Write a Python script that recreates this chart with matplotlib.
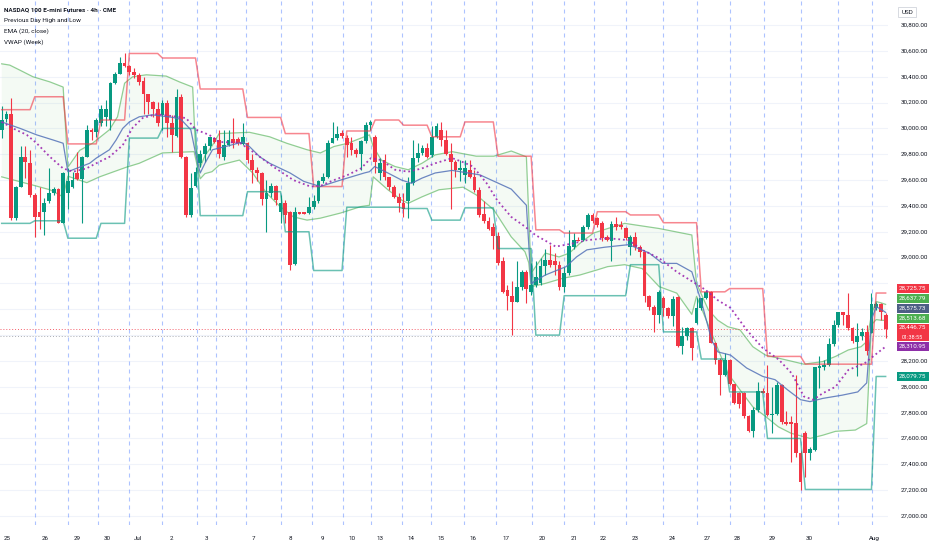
import numpy as np
import matplotlib
matplotlib.use('Agg')
import matplotlib.pyplot as plt
from matplotlib.patches import Rectangle

plt.rcParams['font.family'] = ['Roboto', 'DejaVu Sans']

# NQ 4h candles, oldest first
opens = [29990, 30070, 30115, 29305, 29550, 29780, 29730, 29485, 29355, 29355,
         29435, 29500, 29530, 29270, 29500, 29550, 29655, 29605, 29780, 29990,
         29975, 30040, 30090, 30065, 30350, 30425, 30510, 30480, 30440, 30415,
         30370, 30265, 30205, 30150, 30105, 30195, 30040, 29940, 30240, 29780,
         29330, 29555, 29730, 29805, 29860, 29925, 29910, 29780, 29870, 29920,
         29920, 29880, 29885, 29755, 29680, 29655, 29455, 29500, 29555, 29355,
         29425, 29355, 28950, 29350, 29350, 29345, 29395, 29435, 29595, 29625,
         29890, 29925, 29965, 29925, 29885, 29830, 29805, 29905, 30025, 29935,
         29655, 29755, 29620, 29550, 29470, 29420, 29435, 29575, 29770, 29810,
         29845, 29795, 29935, 29990, 29910, 29805, 29740, 29675, 29640, 29680,
         29625, 29525, 29335, 29280, 29235, 29165, 28970, 28750, 28705, 28660,
         28775, 28885, 28735, 28790, 28800, 28935, 28980, 28975, 28945, 28770,
         28880, 29085, 29140, 29135, 29240, 29330, 29305, 29265, 29160, 29125,
         29260, 29255, 29230, 29085, 29160, 29085, 29045, 28700, 28620, 28555,
         28685, 28610, 28545, 28695, 28315, 28390, 28455, 28490, 28610, 28685,
         28735, 28340, 28205, 28095, 28205, 28020, 27950, 27950, 27770, 27660,
         27820, 27965, 27955, 27780, 27790, 28015, 27730, 27725, 27720, 27485,
         27645, 27485, 27510, 28145, 28150, 28170, 28330, 28475, 28580, 28555,
         28455, 28350, 28390, 28425, 28420, 28610, 28640, 28555]
highs = [30170, 30135, 30235, 29555, 29860, 29860, 29835, 29500, 29550, 29460,
         29690, 29550, 29540, 29665, 29690, 29665, 29820, 29785, 30025, 30000,
         30080, 30180, 30220, 30360, 30435, 30555, 30580, 30490, 30465, 30430,
         30400, 30270, 30210, 30205, 30220, 30220, 30105, 30305, 30270, 29785,
         29655, 29705, 29835, 29885, 29935, 29935, 29990, 29990, 29990, 30080,
         29935, 30040, 29895, 29805, 29705, 29660, 29600, 29575, 29560, 29485,
         29445, 29360, 29395, 29355, 29355, 29470, 29485, 29600, 29655, 29910,
         30050, 30015, 29990, 29950, 29935, 29845, 29910, 30050, 30065, 29950,
         29770, 29805, 29625, 29560, 29500, 29500, 29625, 29910, 29885, 29870,
         29885, 30015, 30040, 30050, 29990, 29885, 29755, 29755, 29755, 29755,
         29680, 29550, 29435, 29315, 29265, 29200, 29005, 28790, 28815, 28970,
         28905, 28905, 28955, 28970, 28995, 29070, 29100, 29035, 28970, 28930,
         29215, 29190, 29160, 29250, 29345, 29345, 29315, 29280, 29175, 29280,
         29315, 29280, 29240, 29175, 29200, 29100, 29045, 28710, 28635, 28750,
         28700, 28620, 28700, 28705, 28465, 28465, 28465, 28685, 28690, 28750,
         28740, 28350, 28220, 28260, 28215, 28025, 27960, 27960, 27780, 27845,
         28040, 27990, 28170, 28000, 28040, 28025, 27815, 27770, 28090, 27500,
         27655, 27535, 28155, 28235, 28205, 28375, 28515, 28580, 28580, 28725,
         28465, 28490, 28455, 28480, 28725, 28660, 28645, 28570]
lows = [29925, 30050, 29290, 29290, 29545, 29615, 29470, 29160, 29225, 29175,
        29420, 29485, 29265, 29265, 29380, 29540, 29600, 29265, 29775, 29910,
        29935, 30015, 30015, 29990, 30340, 30420, 30475, 30415, 30390, 30335,
        30115, 30115, 30090, 30015, 29990, 29935, 29820, 29935, 29770, 29315,
        29315, 29550, 29705, 29740, 29835, 29885, 29770, 29755, 29860, 29845,
        29870, 29870, 29730, 29575, 29590, 29405, 29200, 29470, 29405, 29265,
        29265, 28905, 28945, 29335, 29335, 29340, 29380, 29420, 29575, 29615,
        29885, 29910, 29925, 29780, 29795, 29780, 29680, 29885, 29990, 29655,
        29600, 29600, 29525, 29460, 29355, 29315, 29305, 29560, 29740, 29795,
        29770, 29780, 29925, 29860, 29795, 29380, 29625, 29590, 29575, 29615,
        29510, 29315, 29265, 29215, 29070, 28945, 28725, 28595, 28400, 28655,
        28750, 28645, 28710, 28775, 28790, 28865, 28930, 28865, 28750, 28735,
        28865, 29070, 29125, 29130, 29225, 29265, 29240, 29125, 29125, 28970,
        29215, 29225, 29135, 29020, 29060, 29005, 28660, 28595, 28425, 28490,
        28545, 28530, 28470, 28310, 28250, 28360, 28205, 28485, 28595, 28680,
        28335, 28180, 27935, 28080, 28015, 27870, 27835, 27755, 27650, 27615,
        27805, 27950, 27770, 27640, 27780, 27715, 27705, 27415, 27460, 27200,
        27305, 27435, 27500, 27990, 28130, 28160, 28315, 28465, 28480, 28440,
        28335, 28080, 28360, 28245, 28415, 28595, 28515, 28375]
closes = [30065, 30115, 29305, 29550, 29780, 29740, 29485, 29315, 29315, 29425,
          29500, 29530, 29270, 29655, 29590, 29600, 29605, 29780, 29990, 29975,
          30065, 30150, 30150, 30350, 30425, 30505, 30480, 30435, 30410, 30360,
          30265, 30205, 30150, 30045, 30195, 30040, 29950, 30240, 29780, 29330,
          29540, 29665, 29805, 29860, 29930, 29895, 29805, 29870, 29910, 29885,
          29885, 29930, 29755, 29680, 29655, 29455, 29500, 29555, 29445, 29425,
          29330, 28945, 29355, 29340, 29340, 29395, 29435, 29595, 29625, 29890,
          29925, 29960, 29940, 29870, 29830, 29805, 29905, 30025, 30050, 29740,
          29730, 29625, 29550, 29470, 29420, 29380, 29575, 29770, 29810, 29845,
          29780, 29935, 30015, 29910, 29805, 29740, 29675, 29690, 29690, 29625,
          29525, 29330, 29280, 29225, 29165, 28955, 28735, 28705, 28660, 28775,
          28885, 28755, 28790, 28850, 28935, 28980, 28945, 28945, 28770, 28880,
          29090, 29140, 29130, 29240, 29330, 29280, 29250, 29150, 29135, 29260,
          29235, 29235, 29150, 29160, 29080, 29045, 28700, 28620, 28555, 28735,
          28610, 28545, 28680, 28315, 28390, 28455, 28300, 28610, 28685, 28735,
          28340, 28205, 28095, 28205, 28020, 27875, 27870, 27770, 27660, 27820,
          27965, 27955, 27780, 27790, 28015, 27725, 27715, 27715, 27485, 27260,
          27485, 27515, 28150, 28160, 28170, 28330, 28475, 28575, 28555, 28455,
          28355, 28390, 28425, 28280, 28640, 28640, 28580, 28446.75]

# previous day high / low, level per session (bar where session starts)
pd_start = [0, 7.0, 14.0, 20.3, 27.0, 34.0, 41.4, 51.6, 59.1, 65.7, 72.1, 78.1, 84.6,
            90.8, 97.8, 104.5, 112.2, 119.0, 125.3, 132.1, 139.8, 147.1, 154.0, 161.2,
            169.1, 184.2]
pdh = [30145, 30245, 29880, 30065, 30580, 30545, 30305, 30085, 29960, 29550, 29980,
       30065, 30025, 29935, 30050, 29785, 29215, 29190, 29355, 29330, 29270, 28735,
       28760, 28235, 28175, 28725.75]
pdl = [29265, 29285, 29150, 29265, 29925, 30000, 29325, 29510, 29200, 28900, 29390,
       29390, 29380, 29290, 29385, 29070, 28400, 28705, 28705, 28945, 28425, 28215,
       27960, 27600, 27205, 28079.75]

# VWAP (week) and its bands, traced vertices (bar, price)
vwap_x = [0, 3.9, 7.4, 10.9, 13, 14, 18.6, 20, 22.8, 24.2, 25.6, 27, 29.1, 31.9, 36.2,
          37.9, 40, 41, 42, 43, 44.6, 47.4, 51, 52.4, 54.6, 56.7, 61, 63.9, 67.4, 71.7,
          76.7, 77.8, 78.9, 81.7, 84.6, 86.7, 88.9, 91.7, 95.3, 101.2, 104.8, 107.8, 111,
          112, 115, 119.4, 121.6, 123.8, 127.5, 132.6, 134.7, 137, 139.8, 142.8, 146,
          147, 148.2, 150.2, 151.5, 154.2, 157.6, 161, 163.6, 166.3, 169, 171, 173.7,
          177.8, 181.1, 183, 184, 185, 186, 187]
vwap_y = [30050, 30000, 29950, 29910, 29885, 29665, 29730, 29770, 29835, 29910, 30000,
          30050, 30090, 30105, 30085, 30070, 29990, 29810, 29655, 29730, 29835, 29860,
          29895, 29860, 29780, 29730, 29655, 29590, 29550, 29600, 29655, 29665, 29705,
          29655, 29600, 29575, 29615, 29655, 29675, 29640, 29580, 29530, 29405, 28800,
          28865, 28930, 29005, 29060, 29080, 29100, 29070, 29035, 28955, 28955, 28890,
          28775, 28635, 28360, 28270, 28245, 28145, 28080, 28055, 27975, 27900, 27885,
          27910, 27935, 27960, 28030, 28520, 28620, 28600, 28575.73]
upper_x = [0, 1.7, 3.9, 6.6, 10.2, 13, 14, 16.5, 19.2, 22.8, 24.5, 26, 27.7, 30.6, 34.8,
           37.6, 40.4, 41, 42, 43, 44.5, 46, 52.4, 56.7, 60.3, 64.6, 67.4, 70.3, 73.2,
           76.7, 77.8, 78.6, 80.3, 83.2, 86, 88.9, 91.7, 95.3, 100.4, 104.1, 107.8, 111,
           112, 115, 117.9, 120.1, 122.3, 125.2, 128.2, 131.8, 139.1, 146, 147, 149.5,
           151.5, 153.6, 156.2, 158.9, 161.6, 165.7, 169.7, 173.7, 176.4, 179.1, 181.8,
           183, 184, 185, 186, 187]
upper_y = [30500, 30490, 30450, 30400, 30360, 30320, 29700, 29830, 29885, 29990, 30090,
           30350, 30400, 30415, 30405, 30360, 30320, 29850, 29700, 29790, 29865, 29960,
           29970, 29935, 29885, 29835, 29810, 29860, 29885, 29935, 29950, 29860, 29755,
           29705, 29680, 29730, 29795, 29820, 29785, 29785, 29825, 29780, 28880, 29035,
           29005, 29035, 29110, 29190, 29225, 29265, 29225, 29175, 28800, 28595, 28515,
           28465, 28440, 28310, 28245, 28210, 28175, 28195, 28235, 28285, 28310, 28350,
           28560, 28660, 28650, 28637.79]
lower_x = [0, 6.7, 10.2, 13, 14, 18, 20.7, 26.4, 29.1, 34, 40.7, 41, 42, 43, 44.5, 46,
           50.3, 53.1, 56, 58.9, 61.7, 64.6, 67.4, 71.7, 76, 77.8, 78.6, 81.7, 84.6, 86,
           88.9, 92.5, 97.6, 100.4, 104.1, 107.8, 110.7, 111.5, 112, 115, 118.7, 122.3,
           126, 128.2, 131.8, 135.5, 139.1, 142.8, 146, 147, 150.9, 153.6, 156.2, 158.9,
           161.6, 164.3, 167, 171, 173.7, 176.4, 180.6, 183, 184, 185, 186, 187]
lower_y = [29625, 29560, 29525, 29470, 29630, 29580, 29625, 29700, 29730, 29810, 29820,
           29770, 29610, 29650, 29665, 29715, 29755, 29655, 29500, 29395, 29315, 29290,
           29305, 29345, 29395, 29405, 29625, 29525, 29445, 29420, 29470, 29525, 29545,
           29485, 29370, 29160, 29045, 28960, 28775, 28800, 28840, 28865, 28905, 28930,
           28945, 28915, 28775, 28725, 28560, 28700, 28350, 28105, 27975, 27845, 27770,
           27690, 27640, 27600, 27625, 27655, 27665, 27715, 28480, 28520, 28515, 28513.68]

# EMA(20) traced vertices
ema_x = [0, 2.4, 5.3, 7.4, 10.2, 13, 15.1, 17.9, 20, 22.8, 25.6, 27.7, 29.8, 32.7, 36.2,
         39, 41.1, 43.9, 46, 50.3, 53.1, 57.4, 61.7, 65.3, 67.4, 70.3, 73.2, 76, 78.1,
         80.3, 83.2, 86, 88.9, 91.7, 95.3, 97.5, 99.7, 102.6, 104.8, 107.8, 110.7, 112.9,
         117.2, 120.9, 123.8, 128.2, 132.6, 135.5, 139.1, 142.8, 146.1, 148.9, 151.5,
         154.2, 157.6, 161, 164.4, 167.1, 169.7, 171.7, 173.7, 176.4, 179.1, 182.5,
         185.2, 187]
ema_y = [30050, 30000, 29950, 29885, 29780, 29690, 29665, 29690, 29730, 29780, 29870,
         30005, 30080, 30110, 30095, 30080, 29990, 29950, 29895, 29890, 29820, 29705,
         29600, 29550, 29555, 29600, 29640, 29690, 29770, 29755, 29680, 29665, 29690,
         29730, 29770, 29740, 29705, 29575, 29445, 29315, 29240, 29175, 29085, 29110,
         29135, 29150, 29135, 29060, 28995, 28890, 28815, 28750, 28670, 28610, 28440,
         28300, 28210, 28105, 27925, 27900, 27950, 28000, 28130, 28180, 28260, 28310.95]

session_breaks = [7.0, 14.0, 20.3, 27.0, 34.0, 41.4, 45.4, 51.6, 59.1, 65.7, 72.1, 78.1,
                  84.6, 90.8, 97.8, 104.5, 112.2, 119.0, 125.3, 132.1, 139.8, 147.1,
                  154.0, 161.2, 169.1, 177.0, 184.2]
day_x = [1.1, 9.1, 15.9, 22.4, 28.9, 35.9, 43.3, 53.3, 61.0, 67.9, 74.1, 80.1, 86.5,
         92.9, 99.7, 106.7, 114.4, 121.2, 127.3, 134.1, 141.9, 149.3, 155.6, 163.0,
         170.9, 184.6]
day_labels = ['25', '26', '29', '30', 'Jul', '2', '3', '7', '8', '9', '10', '13', '14',
              '15', '16', '17', '20', '21', '22', '23', '24', '27', '28', '29', '30', 'Aug']
price_ticks = [27000, 27200, 27400, 27600, 27800, 28000, 28200, 28400, 28600, 28800,
               29000, 29200, 29400, 29600, 29800, 30000, 30200, 30400, 30600, 30800]

last_price = 28446.75
prev_close = 28395
countdown = '01:38:55'
tag_prices = [28725.75, 28637.79, 28575.73, 28513.68, 28310.95, 28079.75]
tag_colors = ['#f23645', '#4caf50', '#4d5f85', '#4caf50', '#8e2fa8', '#089981']

UP = '#089981'
DOWN = '#f23645'
TXT = '#131722'

fig = plt.figure(figsize=(9.32, 5.5), dpi=100)
ax = fig.add_axes([0, 25 / 550, 888 / 932, 525 / 550])
ymin, ymax = 26930, 30994
ax.set_xlim(-0.36, 187.5)
ax.set_ylim(ymin, ymax)
for s in ax.spines.values():
    s.set_visible(False)
ax.set_yticks([])

for p in price_ticks:
    ax.axhline(p, color='#f0f3fa', lw=0.8, zorder=0)
for s in session_breaks:
    ax.axvline(s, color='#2962ff', alpha=0.38, lw=0.8, ls=(0, (3.6, 3.6)), zorder=0.5)

# band fill + lines
ax.fill(np.r_[upper_x, lower_x[::-1]], np.r_[upper_y, lower_y[::-1]],
        color='#4caf50', alpha=0.06, lw=0, zorder=1)
ax.plot(upper_x, upper_y, color='#4caf50', alpha=0.6, lw=0.9, zorder=2)
ax.plot(lower_x, lower_y, color='#4caf50', alpha=0.6, lw=0.9, zorder=2)

# price lines
ax.axhline(last_price, color=DOWN, lw=0.7, ls=(0, (1, 2)), alpha=0.8, zorder=2)
ax.axhline(prev_close, color='#9598a1', lw=0.7, ls=(0, (1, 2)), alpha=0.8, zorder=2)

# candles
o = np.array(opens); h = np.array(highs); l = np.array(lows); c = np.array(closes)
idx = np.arange(len(o))
cols = np.where(c >= o, UP, DOWN)
ax.vlines(idx, l, h, colors=cols, lw=0.8, zorder=3)
body = np.maximum(np.abs(c - o), 8)
ax.bar(idx, body, bottom=np.minimum(o, c), width=0.8, color=cols, lw=0, zorder=4)

# previous day high/low step lines
seg = np.searchsorted(pd_start, idx, side='right') - 1
ax.plot(idx, np.array(pdh)[seg], color=DOWN, alpha=0.6, lw=1.1, zorder=5)
ax.plot(idx, np.array(pdl)[seg], color=UP, alpha=0.6, lw=1.1, zorder=5)

ax.plot(vwap_x, vwap_y, color='#5472b8', alpha=0.85, lw=0.9, zorder=5)
ax.plot(ema_x, ema_y, color='#9c27b0', alpha=0.9, lw=1.3, ls=(0, (1, 1.6)), zorder=6)

ax.set_xticks(day_x)
ax.set_xticklabels(day_labels, fontsize=4.5, color=TXT)
ax.tick_params(axis='x', length=0, pad=8)

# legend
fig.text(4 / 932, 1 - 10 / 550, 'NASDAQ 100 E-mini Futures · 4h · CME', fontsize=4.6,
         fontweight='bold', color=TXT, va='center')
for k, t in enumerate(['Previous Day High and Low', 'EMA (20, close)', 'VWAP (Week)']):
    fig.text(4 / 932, 1 - (20.7 + 10.5 * k) / 550, t, fontsize=4.6, color=TXT, va='center')

# price scale
axr = fig.add_axes([888 / 932, 25 / 550, 44 / 932, 525 / 550])
axr.set_xlim(0, 44)
axr.set_ylim(ymin, ymax)
axr.axis('off')
ppx = (ymax - ymin) / 525

# stack the value tags around the last price tag
tags = []  # (center, bottom, top, color, text)
tags.append((last_price, last_price - 12 * ppx, last_price + 5 * ppx, DOWN,
             f'{last_price:,.2f}'))
limit = last_price + 5 * ppx
for p, col in sorted([(p, c_) for p, c_ in zip(tag_prices, tag_colors) if p > last_price]):
    cen = max(p, limit + 5.5 * ppx)
    tags.append((cen, cen - 4.5 * ppx, cen + 4.5 * ppx, col, f'{p:,.2f}'))
    limit = cen + 4.5 * ppx
limit = last_price - 12 * ppx
for p, col in sorted([(p, c_) for p, c_ in zip(tag_prices, tag_colors) if p < last_price],
                     reverse=True):
    cen = min(p, limit - 5.5 * ppx)
    tags.append((cen, cen - 4.5 * ppx, cen + 4.5 * ppx, col, f'{p:,.2f}'))
    limit = cen - 4.5 * ppx

# scale labels, except those hidden behind a tag
for p in price_ticks:
    if any(b - 3 * ppx <= p <= t + 3 * ppx for _, b, t, _, _ in tags):
        continue
    axr.text(12.7, p, f'{p:,.2f}', fontsize=4.5, color=TXT, va='center', ha='left', zorder=1)

for k, (cen, b, t, col, txt) in enumerate(tags):
    axr.add_patch(Rectangle((8.5, b), 32.5, t - b, facecolor=col, lw=0, zorder=5))
    ty = cen + 1.5 * ppx if k == 0 else cen
    axr.text(24.75, ty, txt, fontsize=4.5, color='white', ha='center', va='center', zorder=6)
axr.text(24.75, last_price - 8 * ppx, countdown, fontsize=4.0, color='white',
         ha='center', va='center', zorder=6)

axr.add_patch(Rectangle((10, ymax - 16.7 * ppx), 18, 9.4 * ppx, facecolor='white',
                        edgecolor='#d1d4dc', lw=0.6, zorder=2))
axr.text(19, ymax - 12 * ppx, 'USD', fontsize=4.5, color=TXT, ha='center', va='center', zorder=3)

fig.savefig('out.png', dpi=100, facecolor='white')
